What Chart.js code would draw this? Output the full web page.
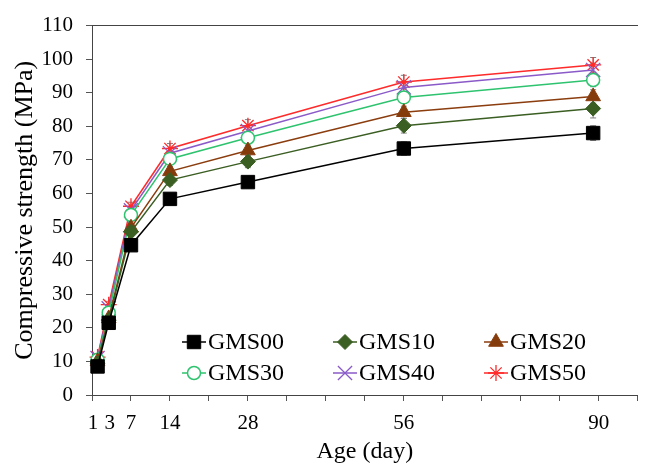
<!DOCTYPE html>
<html>
<head>
<meta charset="utf-8">
<script src="https://cdn.jsdelivr.net/npm/chart.js@4.4.1/dist/chart.umd.min.js"></script>
<style>
  html, body { margin: 0; padding: 0; background: #fff; }
  canvas { display: block; }
</style>
</head>
<body>
<canvas id="myChart" width="649" height="464"></canvas>
<script>
// ages (day)
var days = [1, 3, 7, 14, 28, 56, 90]
// x tick labels and the axis values where the original figure prints them
var dayLabels = ['1', '3', '7', '14', '28', '56', '90']
var dayLabelAt = [0.2, 3.2, 7, 14, 28, 56, 91]
var names = ['GMS00', 'GMS10', 'GMS20', 'GMS30', 'GMS40', 'GMS50']

// compressive strength (MPa)
var gms00 = [8.5, 21.5, 44.6, 58.4, 63.4, 73.4, 78.0]
var gms10 = [9.5, 22.3, 48.6, 64.0, 69.5, 80.2, 85.3]
var gms20 = [10.0, 22.8, 49.8, 66.6, 72.8, 84.2, 88.9]
var gms30 = [10.5, 24.5, 53.6, 70.3, 76.6, 88.6, 93.8]
var gms40 = [11.0, 25.8, 55.0, 72.0, 78.6, 91.6, 96.8]
var gms50 = [11.3, 26.9, 56.2, 73.4, 80.2, 93.2, 98.3]

// error bars (+/- MPa)
var err00 = [0.8, 1.0, 1.2, 1.4, 1.4, 2.0, 2.2]
var err10 = [0.8, 1.0, 1.4, 1.6, 1.8, 2.2, 2.8]
var err20 = [0.8, 1.0, 1.2, 1.4, 1.6, 1.8, 2.0]
var err30 = [0.8, 1.0, 1.2, 1.4, 1.6, 1.8, 2.0]
var err40 = [0.8, 1.0, 1.2, 1.4, 1.6, 1.8, 2.0]
var err50 = [0.8, 1.0, 1.2, 1.5, 1.8, 2.0, 2.2]

var serif = "'Liberation Serif', 'Times New Roman', serif"

function series(label, values, errs, color, style, radius, fill, bw) {
    return {
        label: label,
        data: values.map(function (v, i) { return { x: days[i], y: v } }),
        errors: errs,
        borderColor: color,
        backgroundColor: color,
        borderWidth: 1.5,
        pointStyle: style,
        pointRadius: radius,
        pointHoverRadius: radius,
        pointBackgroundColor: fill,
        pointBorderColor: color,
        pointBorderWidth: bw,
        tension: 0,
        clip: false
    }
}

var errorBars = {
    id: 'errorBars',
    beforeDatasetsDraw: function (chart) {
        var ctx = chart.ctx
        var xs = chart.scales.x, ys = chart.scales.y
        ctx.save()
        ctx.strokeStyle = '#808080'
        ctx.lineWidth = 1
        chart.data.datasets.forEach(function (ds) {
            ds.data.forEach(function (p, j) {
                var px = xs.getPixelForValue(p.x)
                var top = ys.getPixelForValue(p.y + ds.errors[j])
                var bot = ys.getPixelForValue(p.y - ds.errors[j])
                ctx.beginPath()
                ctx.moveTo(px, top); ctx.lineTo(px, bot)
                ctx.moveTo(px - 3, top); ctx.lineTo(px + 3, top)
                ctx.moveTo(px - 3, bot); ctx.lineTo(px + 3, bot)
                ctx.stroke()
            })
        })
        ctx.restore()
    }
}

var legendGrid = {
    id: 'legendGrid',
    afterDraw: function (chart) {
        var ctx = chart.ctx
        var area = chart.chartArea
        chart.data.datasets.forEach(function (ds, i) {
            var col = i % 3, row = Math.floor(i / 3)
            var x = area.left + 90 + col * 151
            var y = area.bottom - 53 + row * 31
            ctx.save()
            ctx.strokeStyle = ds.borderColor
            ctx.lineWidth = 1.5
            ctx.beginPath()
            ctx.moveTo(x, y)
            ctx.lineTo(x + 24, y)
            ctx.stroke()
            ctx.fillStyle = ds.pointBackgroundColor
            ctx.strokeStyle = ds.pointBorderColor
            ctx.lineWidth = ds.pointBorderWidth
            Chart.helpers.drawPoint(ctx, {
                pointStyle: ds.pointStyle,
                radius: ds.pointRadius,
                rotation: 0,
                borderWidth: ds.pointBorderWidth
            }, x + 12, y)
            ctx.fillStyle = '#000'
            ctx.font = '24px ' + serif
            ctx.textBaseline = 'middle'
            ctx.textAlign = 'left'
            ctx.fillText(ds.label, x + 26, y + 1)
            ctx.restore()
        })
    }
}

function Graphic() {
    var ctx = document.getElementById('myChart')
    var allTicks = []
    for (var t = 0; t <= 98; t += 7) allTicks.push(t)
    dayLabelAt.forEach(function (d) { if (allTicks.indexOf(d) < 0) allTicks.push(d) })
    allTicks.sort(function (a, b) { return a - b })

    new Chart(ctx, {
        type: 'line',
        data: {
            datasets: [
                series(names[0], gms00, err00, '#000000', 'rect', 9.5, '#000000', 1),
                series(names[1], gms10, err10, '#3B5E23', 'rectRot', 7.5, '#3B5E23', 1),
                series(names[2], gms20, err20, '#8B3D0E', 'triangle', 8.5, '#843C0C', 1),
                series(names[3], gms30, err30, '#2EC36E', 'circle', 6.5, '#ffffff', 1.5),
                series(names[4], gms40, err40, '#8A5AC8', 'crossRot', 10, '#8A5AC8', 1.3),
                series(names[5], gms50, err50, '#FF2A2A', 'star', 8, '#FF2A2A', 1.3)
            ]
        },
        options: {
            responsive: false,
            animation: false,
            events: [],
            layout: { padding: { top: 20, right: 0, left: 0, bottom: 0 } },
            plugins: {
                legend: { display: false },
                tooltip: { enabled: false }
            },
            scales: {
                x: {
                    type: 'linear',
                    position: 'bottom',
                    min: 0,
                    max: 98,
                    afterBuildTicks: function (scale) {
                        scale.ticks = allTicks.map(function (v) { return { value: v } })
                    },
                    afterFit: function (scale) { scale.height = 69 },
                    ticks: {
                        autoSkip: false,
                        maxRotation: 0,
                        minRotation: 0,
                        padding: 10,
                        color: '#000',
                        font: { family: serif, size: 21 },
                        callback: function (v) {
                            var k = dayLabelAt.indexOf(v)
                            return k >= 0 ? dayLabels[k] : ''
                        }
                    },
                    grid: {
                        drawOnChartArea: false,
                        drawTicks: true,
                        tickLength: 6,
                        tickColor: function (c) {
                            return c.tick && c.tick.value % 7 === 0 ? '#555' : 'rgba(0,0,0,0)'
                        }
                    },
                    border: { display: true, color: '#444', width: 1 },
                    title: {
                        display: true,
                        text: 'Age (day)',
                        color: '#000',
                        font: { family: serif, size: 24, lineHeight: 1 },
                        padding: { top: 0, bottom: 0 }
                    }
                },
                xTop: {
                    type: 'linear',
                    position: 'top',
                    min: 0,
                    max: 98,
                    afterFit: function (scale) { scale.height = 0 },
                    ticks: { display: false },
                    grid: { display: false },
                    border: { display: true, color: '#444', width: 1 }
                },
                y: {
                    min: 0,
                    max: 110,
                    afterFit: function (scale) { scale.width = 92 },
                    ticks: {
                        stepSize: 10,
                        padding: 13,
                        color: '#000',
                        font: { family: serif, size: 21 }
                    },
                    grid: {
                        drawOnChartArea: false,
                        drawTicks: true,
                        tickLength: 6,
                        tickColor: '#555'
                    },
                    border: { display: true, color: '#444', width: 1 },
                    title: {
                        display: true,
                        text: 'Compressive strength (MPa)',
                        color: '#000',
                        font: { family: serif, size: 26, lineHeight: 1 },
                        padding: { top: 12, bottom: 0 }
                    }
                }
            }
        },
        plugins: [errorBars, legendGrid]
    })
}

window.addEventListener('load', Graphic)
</script>
</body>
</html>
